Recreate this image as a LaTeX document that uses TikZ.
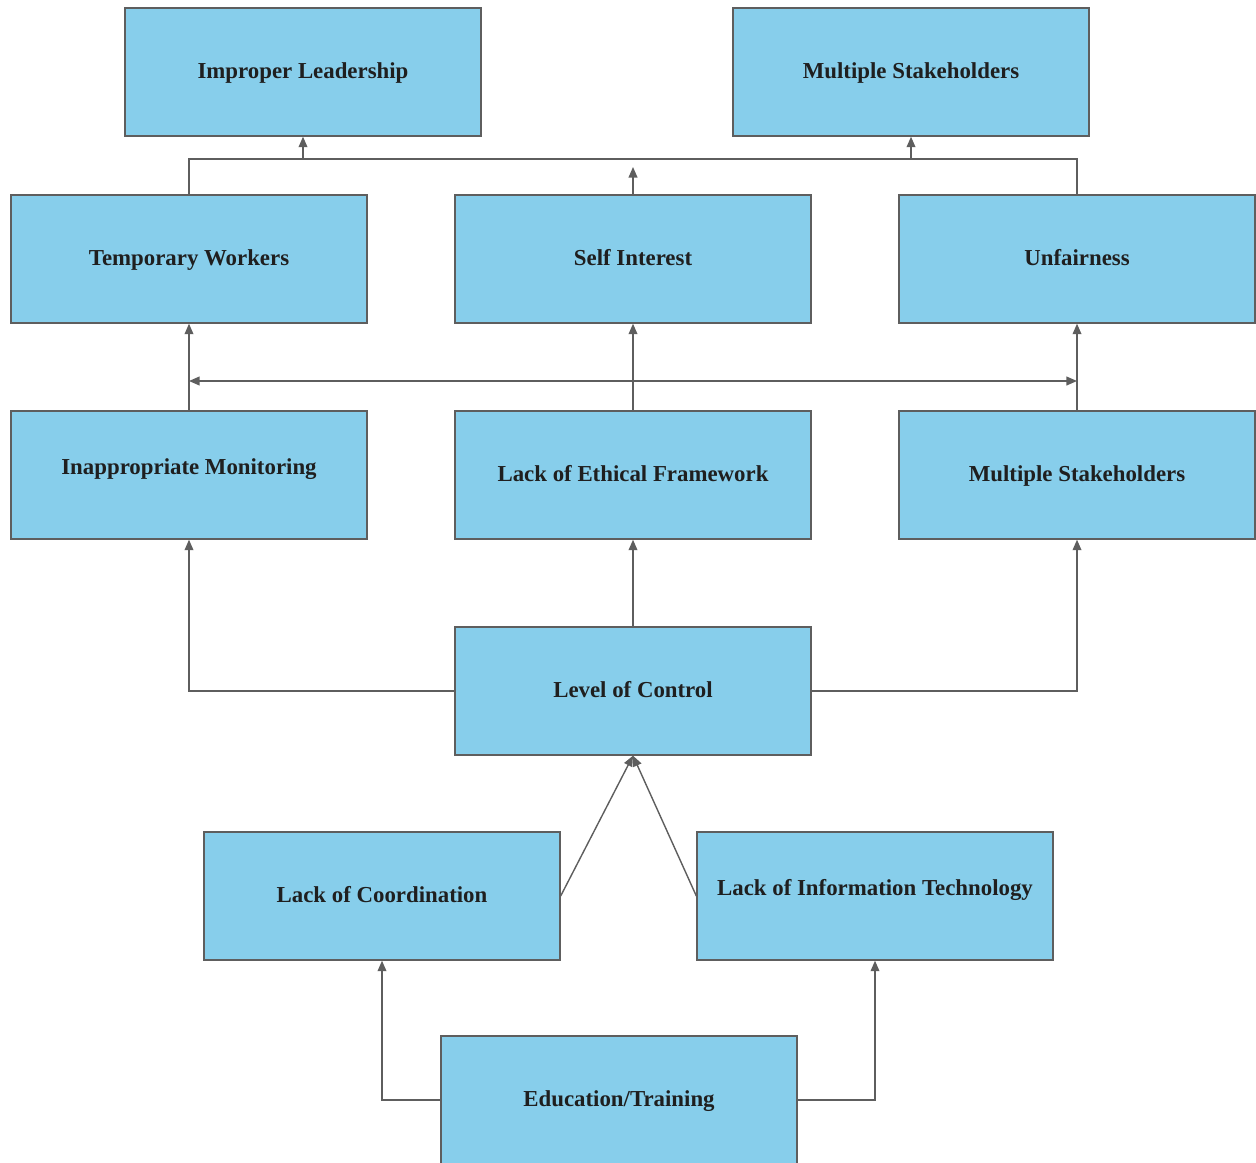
\documentclass[tikz,border=0pt]{standalone}
\usepackage{fontspec}
\setmainfont{Liberation Serif}
\usetikzlibrary{arrows.meta, positioning}
\definecolor{biru}{HTML}{87CEEB}
\definecolor{garis}{HTML}{5E5E5E}

\begin{document}
\begin{tikzpicture}[x=0.02cm, y=-0.02cm,
  kotak/.style={draw=garis, fill=biru, line width=0.8pt, minimum width=7.12cm,
    minimum height=2.56cm, inner sep=0pt, text=black!88, text height=9pt, text depth=1.5pt,
    font=\bfseries\fontsize{13}{15}\selectfont},
  panah/.style={draw=garis, line width=0.8pt, -{Triangle[length=6pt,width=5pt]}},
  garisan/.style={draw=garis, line width=0.8pt}]
  \useasboundingbox (0,0) rectangle (1256,1162);

  % Kotak
  \node[kotak] (il) at (303,72) {Improper Leadership};
  \node[kotak] (ms1) at (911,72) {Multiple Stakeholders};
  \node[kotak] (tw) at (189,259) {Temporary Workers};
  \node[kotak] (si) at (633,259) {Self Interest};
  \node[kotak] (unf) at (1077,259) {Unfairness};
  \node[kotak] (im) at (189,475) {\raisebox{4pt}{Inappropriate Monitoring}};
  \node[kotak] (lef) at (633,475) {Lack of Ethical Framework};
  \node[kotak] (ms2) at (1077,475) {Multiple Stakeholders};
  \node[kotak] (loc) at (633,691) {Level of Control};
  \node[kotak] (lc) at (382,896) {Lack of Coordination};
  \node[kotak] (lit) at (875,896) {\raisebox{4pt}{Lack of Information Technology}};
  \node[kotak] (edu) at (619,1100) {Education/Training};

  % Panah atas
  \coordinate (atas) at (633,159);
  \coordinate (ujung) at (633,167);
  \draw[garisan] (tw.north) |- (atas) -| (unf.north);
  \draw[panah] (il.south |- atas) -- (il.south);
  \draw[panah] (ms1.south |- atas) -- (ms1.south);
  \draw[panah] (si.north) -- (ujung);

  % Panah tengah
  \coordinate (kiri) at (189,381);
  \coordinate (kanan) at (1077,381);
  \draw[panah] (im.north) -- (tw.south);
  \draw[panah] (lef.north) -- (si.south);
  \draw[panah] (ms2.north) -- (unf.south);
  \draw[panah, {Triangle[length=6pt,width=5pt]}-{Triangle[length=6pt,width=5pt]}] (kiri) -- (kanan);

  % Level of Control
  \draw[panah] (loc.west) -| (im.south);
  \draw[panah] (loc.north) -- (lef.south);
  \draw[panah] (loc.east) -| (ms2.south);
  \draw[panah] (lc.east) -- (loc.south);
  \draw[panah] (lit.west) -- (loc.south);

  % Pendidikan
  \draw[panah] (edu.west) -| (lc.south);
  \draw[panah] (edu.east) -| (lit.south);
\end{tikzpicture}
\end{document}
